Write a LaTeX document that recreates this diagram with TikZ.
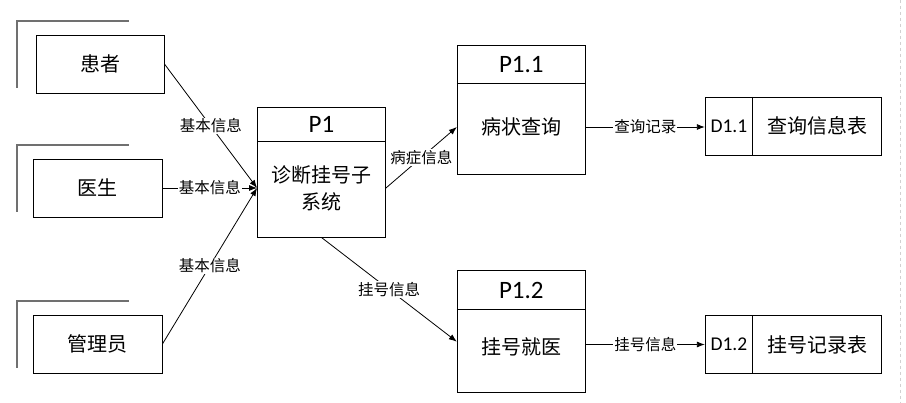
\documentclass[tikz,border=0pt]{standalone}
\usepackage{fontspec}
\setmainfont{Carlito}
\newfontfamily\cjk{Noto Sans CJK SC}
\usetikzlibrary{arrows.meta,calc}
\definecolor{shd}{RGB}{112,112,112}
\begin{document}
\begin{tikzpicture}[x=1pt,y=-1pt,
  ent/.style={draw=black, line width=0.9pt, minimum width=128pt, minimum height=58pt, inner sep=0pt, font=\cjk\fontsize{20}{24}\selectfont},
  shadowL/.style={draw=shd, line width=1.6pt},
  proc/.style={draw=black, line width=0.9pt, inner sep=0pt, minimum width=128pt},
  store/.style={draw=black, line width=0.9pt, inner sep=0pt, minimum width=176.4pt, minimum height=57.7pt},
  divider/.style={draw=black, line width=0.9pt},
  head/.style={font=\fontsize{25}{30}\selectfont, inner sep=0pt},
  sid/.style={font=\fontsize{19.5}{23}\selectfont, inner sep=0pt},
  main/.style={font=\cjk\fontsize{20}{26.6}\selectfont, align=center, inner sep=0pt},
  lbl/.style={font=\cjk\fontsize{15.5}{18}\selectfont, fill=white, inner sep=1pt},
  flow/.style={draw=black, line width=0.8pt, -{Latex[length=8pt,width=6pt]}}
]
\useasboundingbox (0,0) rectangle (906,403);
\fill[white] (0,0) rectangle (906,403);
\draw[black!18, dashed, line width=0.6pt] (900,0) -- (900,403);

% external entities
\draw[shadowL] (17,88) -- (17,21) -- (129,21);
\draw[shadowL] (17,212) -- (17,145) -- (129,145);
\draw[shadowL] (17,368) -- (17,301) -- (129,301);
\node[ent] (e1) at (100,64) {患者};
\node[ent, minimum width=129pt] (e2) at (97.5,188) {医生};
\node[ent, minimum width=129pt] (e3) at (97.5,344) {管理员};

% process P1
\node[proc, minimum height=129.7pt] (P1) at (321.5,172.2) {};
\draw[divider] ($(P1.north west)+(0,34.4)$) -- ($(P1.north east)+(0,34.4)$);
\node[head] (h1) at ($(P1.north)+(0,17.4)$) {P1};
\node[main] (t1) at (321.5,188.3) {诊断挂号子\\系统};

% process P1.1
\node[proc, minimum height=128.7pt] (P11) at (521.3,109.7) {};
\draw[divider] ($(P11.north west)+(0,38.7)$) -- ($(P11.north east)+(0,38.7)$);
\node[head] (h11) at ($(P11.north)+(0,19.5)$) {P1.1};
\node[main] (t11) at (521.3,127) {病状查询};

% process P1.2
\node[proc, minimum height=121.6pt] (P12) at (521.3,331.5) {};
\draw[divider] ($(P12.north west)+(0,39.3)$) -- ($(P12.north east)+(0,39.3)$);
\node[head] (h12) at ($(P12.north)+(0,19.8)$) {P1.2};
\node[main] (t12) at (521.3,346.7) {挂号就医};

% data stores
\node[store] (D11) at (793.5,126.2) {};
\draw[divider] ($(D11.north west)+(48,0)$) -- ($(D11.south west)+(48,0)$);
\node[sid] (d11) at ($(D11.west)+(24,0)$) {D1.1};
\node[main] (s11) at ($(D11.west)+(112.2,0)$) {查询信息表};

\node[store] (D12) at (793.5,344.5) {};
\draw[divider] ($(D12.north west)+(48,0)$) -- ($(D12.south west)+(48,0)$);
\node[sid] (d12) at ($(D12.west)+(24,0)$) {D1.2};
\node[main] (s12) at ($(D12.west)+(112.2,0)$) {挂号记录表};

% flows
\coordinate (pin) at (P1.west |- e2.east);
\draw[flow] (e1.east) -- node[lbl]{基本信息} (pin);
\draw[flow] (e2.east) -- node[lbl]{基本信息} (pin);
\draw[flow] (e3.east) -- node[lbl]{基本信息} (pin);
\draw[flow] (P1.east |- pin) -- node[lbl]{病症信息} (P11.west |- t11);
\draw[flow] (P1.south) -- node[lbl]{挂号信息} ($(P12.west |- t12)+(0,-5)$);
\draw[flow] (P11.east |- t11) -- node[lbl]{查询记录} (D11.west |- t11);
\draw[flow] (P12.east |- D12) -- node[lbl]{挂号信息} (D12.west);
\end{tikzpicture}
\end{document}
